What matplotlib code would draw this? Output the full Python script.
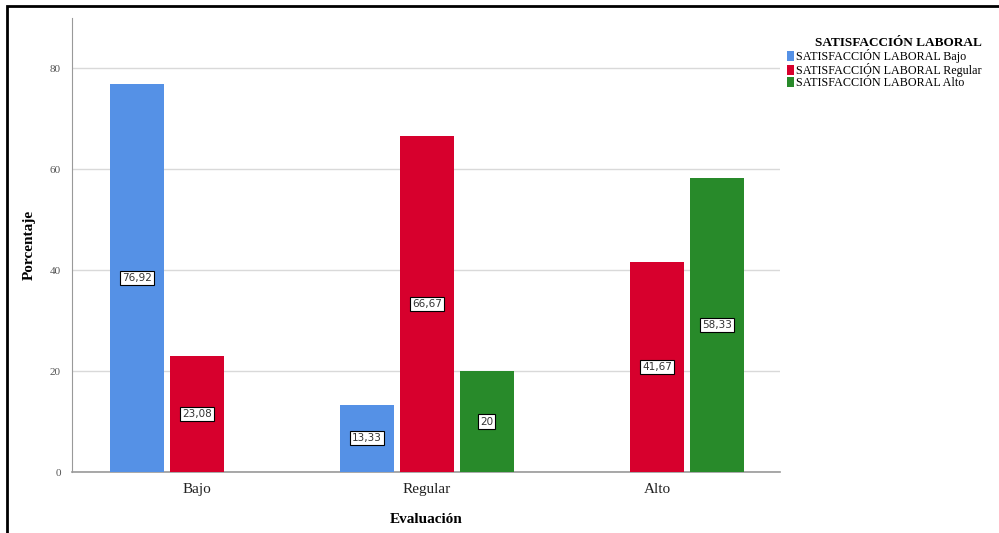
import matplotlib.pyplot as plt
from matplotlib.patches import Rectangle

# Data
categories = ['Bajo', 'Regular', 'Alto']
series = ['SATISFACCIÓN LABORAL Bajo', 'SATISFACCIÓN LABORAL Regular', 'SATISFACCIÓN LABORAL Alto']
bajo = [76.92, 13.33, 0]
regular = [23.08, 66.67, 41.67]
alto = [0, 20, 58.33]
labels_bajo = ['76,92', '13,33', '']
labels_regular = ['23,08', '66,67', '41,67']
labels_alto = ['', '20', '58,33']

colors = ['#5591e6', '#d7002d', '#288a2a']

plt.rcParams['font.family'] = ['Liberation Serif', 'DejaVu Serif']

fig = plt.figure(figsize=(9.99, 5.33), dpi=100)
W, H = 999, 533
ax = fig.add_axes([72 / W, (H - 472) / H, (780 - 72) / W, (472 - 18) / H])

# outer frame (only top and left visible)
fig.patches.append(Rectangle((7 / W, -0.1), 1.2, (H - 6) / H + 0.1, transform=fig.transFigure,
                             fill=False, edgecolor='black', linewidth=2))

x = list(range(len(categories)))
width = 0.235
offset = 0.26
data = [bajo, regular, alto]
labs = [labels_bajo, labels_regular, labels_alto]

for i, (vals, col, name, lab) in enumerate(zip(data, colors, series, labs)):
    xs = [xi + (i - 1) * offset for xi in x]
    bars = ax.bar(xs, vals, width=width, color=col, label=name, zorder=3)
    for b, v, t in zip(bars, vals, lab):
        if v > 0:
            ax.text(b.get_x() + b.get_width() / 2, v / 2, t, ha='center', va='center',
                    fontsize=7.5, family=['DejaVu Sans'], color='#333333', zorder=4,
                    bbox=dict(boxstyle='square,pad=0.2', facecolor='white', edgecolor='black', linewidth=0.8))

ax.set_xlim(-0.543, 2.535)
ax.set_ylim(0, 90)
ax.set_yticks([0, 20, 40, 60, 80])
ax.set_xticks(x)
ax.set_xticklabels(categories, fontsize=11, color='#222222')
ax.tick_params(axis='y', labelsize=8, colors='#555555', length=0, pad=8)
ax.tick_params(axis='x', length=0, pad=8)
ax.grid(axis='y', color='#d9d9d9', linewidth=1, zorder=0)

for s in ['top', 'right']:
    ax.spines[s].set_visible(False)
ax.spines['left'].set_color('#999999')
ax.spines['bottom'].set_color('#999999')
ax.spines['bottom'].set_linewidth(1.2)

ax.set_xlabel('Evaluación', fontsize=11, fontweight='bold', labelpad=12)
ax.set_ylabel('Porcentaje', fontsize=11, fontweight='bold', labelpad=10)

leg = fig.legend(loc='upper left', bbox_to_anchor=(781 / W, 1 - 31 / H), frameon=False,
                 title='SATISFACCIÓN LABORAL', fontsize=8.7, handlelength=0.6, handleheight=0.9,
                 handletextpad=0.15, labelspacing=0.0, borderpad=0)
leg.get_title().set_fontweight('bold')
leg.get_title().set_fontsize(9.5)
leg._legend_box.align = 'right'

fig.savefig('out.png', dpi=100, facecolor='white')
